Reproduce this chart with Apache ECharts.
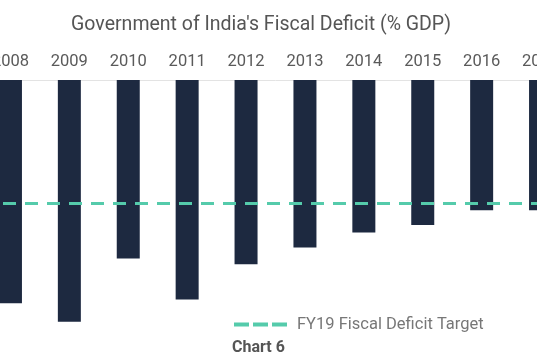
<!DOCTYPE html>
<html>
<head>
<meta charset="utf-8">
<script src="https://cdn.jsdelivr.net/npm/echarts@6/dist/echarts.min.js"></script>
<style>html,body{margin:0;padding:0;background:#fff;overflow:hidden;width:537px;height:360px}#c{position:absolute;left:-19px;top:0;width:589px;height:360px}</style>
</head>
<body>
<div id="c"></div>
<script>
const years = ['2008','2009','2010','2011','2012','2013','2014','2015','2016','2017'];
const deficit = [6.0, 6.5, 4.8, 5.9, 4.95, 4.5, 4.1, 3.9, 3.5, 3.5];
const target = 3.3;
const targetName = 'FY19 Fiscal Deficit Target';
const titleText = "Government of India's Fiscal Deficit (% GDP)";
const captionText = 'Chart 6';

const chart = echarts.init(document.getElementById('c'));
chart.setOption({
  animation: false,
  textStyle: { fontFamily: 'Roboto' },
  graphic: [
    { type: 'text', x: 280, y: 25, z: 10,
      style: { text: titleText, textAlign: 'center', textVerticalAlign: 'middle',
        font: 'normal 19.5px Roboto', fill: '#555' } },
    { type: 'text', x: 251, y: 348, z: 10,
      style: { text: captionText, textAlign: 'left', textVerticalAlign: 'middle',
        font: 'bold 16px Roboto', fill: '#555' } }
  ],
  legend: {
    data: [targetName],
    left: 248, top: 311,
    icon: 'path://M0,0H15V4H0Z M19,0H34V4H19Z M38,0H53V4H38Z',
    itemWidth: 53, itemHeight: 4, itemGap: 10,
    textStyle: { fontSize: 16.5, color: '#777', padding: [0,0,0,5] }
  },
  grid: { left: 0, right: 0, top: 80, height: 260.4 },
  xAxis: {
    type: 'category', data: years, position: 'top',
    axisLine: { lineStyle: { color: '#e3e3e3', width: 1 } },
    axisTick: { show: false },
    axisLabel: { fontSize: 16.5, color: '#5a5a5a', margin: 10 },
    splitLine: { show: false }
  },
  yAxis: {
    type: 'value', inverse: true, min: 0, max: 7, show: false,
    splitLine: { show: false }
  },
  series: [
    { type: 'bar', data: deficit, barWidth: 23, itemStyle: { color: '#1d2940' }, z: 2 },
    { type: 'line', name: targetName, data: [], z: 5,
      itemStyle: { color: '#55cbab' },
      lineStyle: { color: '#55cbab' },
      markLine: {
        silent: true, symbol: 'none', label: { show: false },
        lineStyle: { color: '#55cbab', width: 3, type: [13, 9] },
        data: [{ yAxis: target }]
      }
    }
  ]
});
</script>
</body>
</html>
